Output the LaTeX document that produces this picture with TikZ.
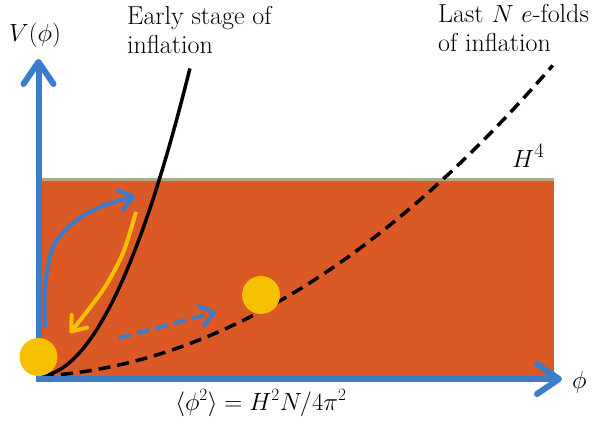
\documentclass[tikz,border=0pt]{standalone}
\usetikzlibrary{arrows.meta}
\definecolor{orng}{RGB}{218,89,36}
\definecolor{axblue}{RGB}{59,125,205}
\definecolor{ballyel}{RGB}{245,192,0}
\definecolor{grgreen}{RGB}{172,170,140}
\tikzset{
  axisline/.style={axblue, line width=6pt, -{Straight Barb[length=22pt,width=30pt,line cap=round,line join=round]}},
  bluearrow/.style={axblue, line width=4pt, -{Straight Barb[length=13pt,width=20pt,line cap=round,line join=round]}},
  yelarrow/.style={ballyel, line width=4pt, -{Straight Barb[length=13pt,width=20pt,line cap=round,line join=round]}},
  potential/.style={black, line width=3.5pt},
  ball/.style={circle, fill=ballyel, minimum size=38pt, inner sep=0pt},
  lbl/.style={inner sep=0pt, font=\fontsize{26}{32}\selectfont},
  mlbl/.style={inner sep=0pt, font=\fontsize{29}{34}\selectfont},
  flbl/.style={inner sep=0pt, font=\fontsize{26}{32}\selectfont},
}
\begin{document}
\begin{tikzpicture}[x=1pt,y=-1pt]
\useasboundingbox (0,0) rectangle (596,423);
% H^4 region
\fill[orng] (41,180) rectangle (554,379);
\draw[grgreen, line width=3pt] (41,179.5) -- (554,179.5);
% potentials
\draw[potential] plot[domain=0:1, samples=60, smooth] ({42+148*\x},{376-308*(0.06*\x+0.94*\x*\x)});
\draw[potential, dash pattern=on 12pt off 7pt] plot[domain=0:1, samples=80, smooth] ({42+511*\x},{376-311*(0.1*\x+0.9*\x*\x)});
% axes
\draw[axisline] (38.5,382) -- (38.5,59);
\draw[axisline] (35.5,379) -- (562,379);
% balls
\node[ball] (b1) at (38.5,357) {};
\node[ball] (b2) at (261,295) {};
% motion arrows
\draw[bluearrow] plot[smooth] coordinates {(45,327) (45,287) (53,247) (73,223) (100,207) (135,196)};
\draw[yelarrow] plot[smooth] coordinates {(136,212) (123,253) (103,290) (70,333)};
\draw[bluearrow, dash pattern=on 12pt off 7pt] (119,338) -- (216,312);
% labels
\node[mlbl, anchor=base west] (vl) at (9,41) {$V(\phi)$};
\node[lbl, anchor=base west] (e1) at (127,24) {Early stage of};
\node[lbl, anchor=base west] (e2) at (127,53) {inflation};
\node[lbl, anchor=base west] (l1) at (438,22) {Last $N$ $e$-folds};
\node[lbl, anchor=base west] (l2) at (438,51) {of inflation};
\node[mlbl, anchor=base west] (h4) at (512,167) {$H^4$};
\node[mlbl, anchor=base west] (ph) at (572,388) {$\phi$};
\node[flbl, anchor=base] (fm) at (261,410) {$\langle\phi^2\rangle = H^2N/4\pi^2$};
\end{tikzpicture}
\end{document}
